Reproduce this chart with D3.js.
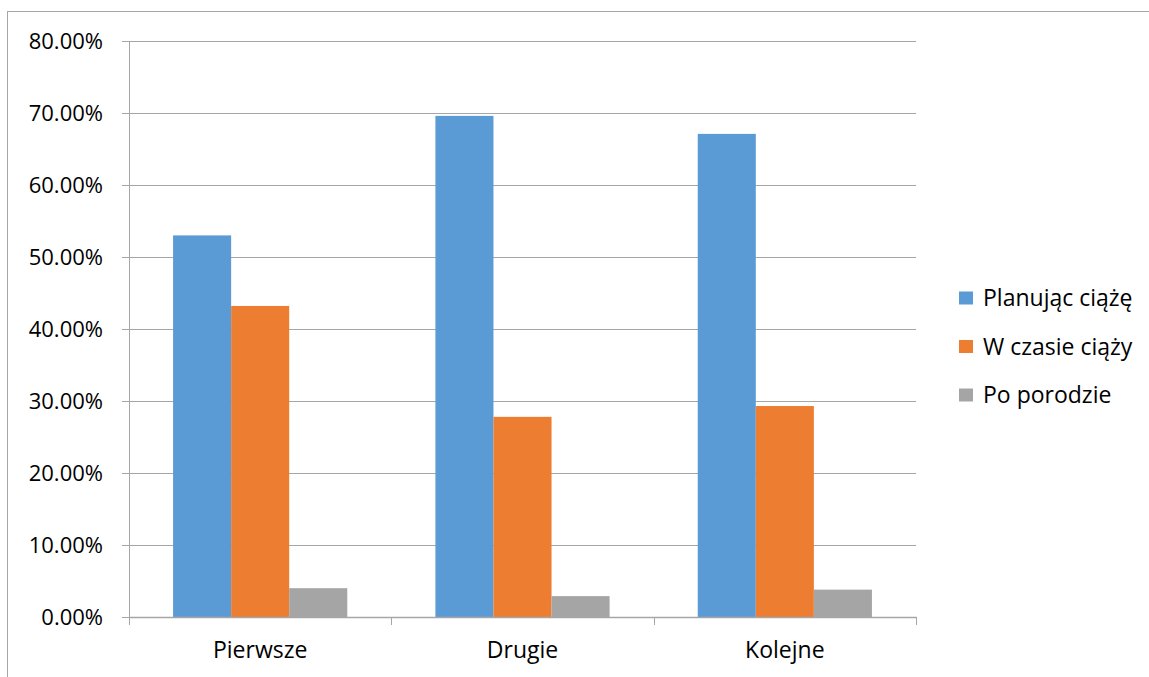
<!DOCTYPE html>
<html>
<head>
<meta charset="utf-8">
<script src="https://cdn.jsdelivr.net/npm/d3@7"></script>
<style>
  body { margin: 0; background: #fff; }
  svg { display: block; font-family: "Open Sans", "Noto Sans", sans-serif; }
</style>
</head>
<body>
<svg id="chart" width="1149" height="677"></svg>
<script>
const categories = ['Pierwsze', 'Drugie', 'Kolejne'];
const seriesNames = ['Planując ciążę', 'W czasie ciąży', 'Po porodzie'];
const seriesColors = ['#5B9BD5', '#ED7D31', '#A5A5A5'];
const planujac = [53.0, 69.6, 67.1];
const wCzasie = [43.2, 27.8, 29.3];
const poPorodzie = [4.0, 2.9, 3.8];
const yTicks = [0, 10, 20, 30, 40, 50, 60, 70, 80];

const values = [planujac, wCzasie, poPorodzie];

const svg = d3.select('#chart');

// outer frame
svg.append('rect')
  .attr('x', 7.5).attr('y', 11.5)
  .attr('width', 1200).attr('height', 700)
  .attr('fill', 'none')
  .attr('stroke', '#a6a6a6');

const margin = { top: 41, left: 129, right: 233, bottom: 60 };
const width = 1149 - margin.left - margin.right;
const height = 617 - margin.top;

const g = svg.append('g').attr('transform', `translate(${margin.left},${margin.top})`);

const x0 = d3.scaleBand().domain(categories).range([0, width]).paddingInner(0.336).paddingOuter(0.168);
const x1 = d3.scaleBand().domain(seriesNames).range([0, x0.bandwidth()]);
const y = d3.scaleLinear().domain([0, 80]).range([height, 0]);

// gridlines
g.append('g')
  .selectAll('line')
  .data(yTicks)
  .join('line')
  .attr('x1', -7).attr('x2', width)
  .attr('y1', d => Math.round(y(d)) + 0.5)
  .attr('y2', d => Math.round(y(d)) + 0.5)
  .attr('stroke', '#a6a6a6');

// y axis
const yAxis = g.append('g')
  .call(d3.axisLeft(y).tickValues(yTicks).tickSize(0).tickPadding(26)
    .tickFormat(d => d.toFixed(2) + '%'));
yAxis.select('.domain').attr('stroke', '#a6a6a6');
yAxis.selectAll('text').attr('font-size', 22).attr('fill', '#000')
  .attr('font-family', '"Open Sans", sans-serif');

// bars
const groups = g.selectAll('.grp')
  .data(categories)
  .join('g')
  .attr('class', 'grp')
  .attr('transform', d => `translate(${x0(d)},0)`);

groups.selectAll('rect')
  .data((c, i) => seriesNames.map((s, j) => ({ s, v: values[j][i], color: seriesColors[j] })))
  .join('rect')
  .attr('x', d => x1(d.s))
  .attr('width', x1.bandwidth())
  .attr('y', d => y(d.v))
  .attr('height', d => height - y(d.v))
  .attr('fill', d => d.color);

// x axis
const xAxis = g.append('g')
  .attr('transform', `translate(0,${height})`)
  .call(d3.axisBottom(x0).tickSize(0).tickPadding(25));
xAxis.select('.domain').attr('stroke', '#a6a6a6').attr('stroke-width', 1.5);
xAxis.selectAll('text').attr('font-size', 23).attr('fill', '#000')
  .attr('font-family', '"Open Sans", sans-serif');

// category separators
const step = width / categories.length;
g.append('g')
  .selectAll('line')
  .data(d3.range(categories.length + 1))
  .join('line')
  .attr('x1', d => Math.round(d * step) + 0.5)
  .attr('x2', d => Math.round(d * step) + 0.5)
  .attr('y1', height).attr('y2', height + 8)
  .attr('stroke', '#a6a6a6');

// legend
const legend = svg.append('g').attr('transform', 'translate(959,298)');
const item = legend.selectAll('g')
  .data(seriesNames)
  .join('g')
  .attr('transform', (d, i) => `translate(0,${i * 48.5})`);
item.append('rect')
  .attr('x', 0).attr('y', -6.5)
  .attr('width', 14).attr('height', 13)
  .attr('fill', (d, i) => seriesColors[i]);
item.append('text')
  .attr('x', 24).attr('y', 0)
  .attr('dy', '0.35em')
  .attr('font-size', 23)
  .text(d => d);
</script>
</body>
</html>
